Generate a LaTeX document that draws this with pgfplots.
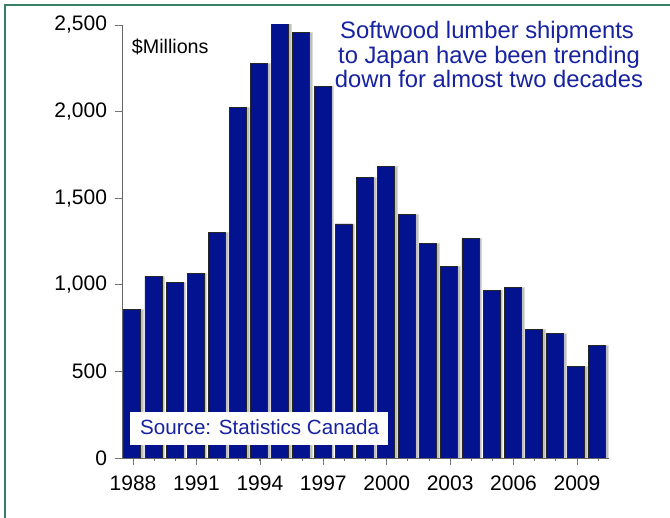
\documentclass[border=0pt]{standalone}
\usepackage{fontspec}
\setmainfont{Liberation Sans}
\usepackage{pgfplots}
\pgfplotsset{compat=1.18}

\definecolor{barblue}{RGB}{3,19,143}
\definecolor{textblue}{RGB}{22,34,160}
\definecolor{framegreen}{RGB}{58,128,100}

\begin{document}
\begin{tikzpicture}
  % page area: 670 x 518 with the axis origin at (0,0)
  \useasboundingbox (-122.5pt,-60pt) rectangle (547.5pt,458pt);
  \fill[white] (-122.5pt,-60pt) rectangle (547.5pt,458pt);

  \begin{axis}[
    scale only axis,
    width=486.2pt, height=433pt,
    xmin=1987.5, xmax=2010.5,
    ymin=0, ymax=2500,
    axis x line*=bottom,
    axis y line*=left,
    axis line style={black!60, line width=0.9pt, -},
    tick align=outside,
    tick style={black!55, line width=0.8pt},
    major tick length=7pt,
    minor tick length=3.5pt,
    xtick={1988,1991,...,2009},
    minor xtick={1988,...,2010},
    ytick={0,500,...,2500},
    /pgf/number format/assume math mode=true,
    x tick label style={/pgf/number format/set thousands separator={},
      font=\fontsize{21}{24}\selectfont, yshift=-7pt},
    y tick label style={/pgf/number format/1000 sep={,},
      font=\fontsize{21}{24}\selectfont, xshift=-5pt},
    ybar,
  ]
    % raised edge behind each bar
    \addplot[fill=gray!50, draw=gray!30, line width=0.5pt, bar width=18pt, bar shift=1.2pt]
      table[x=year, y=value] {
        year value
        1988 860
        1989 1050
        1990 1012
        1991 1064
        1992 1303
        1993 2025
        1994 2279
        1995 2525
        1996 2458
        1997 2144
        1998 1351
        1999 1621
        2000 1682
        2001 1407
        2002 1241
        2003 1107
        2004 1266
        2005 968
        2006 987
        2007 741
        2008 718
        2009 531
        2010 649
      };
    % shipments, $ millions
    \addplot[fill=barblue, draw=black!85, line width=0.8pt, bar width=17pt, bar shift=-0.8pt]
      table[x=year, y=value] {
        year value
        1988 860
        1989 1050
        1990 1012
        1991 1064
        1992 1303
        1993 2025
        1994 2279
        1995 2525
        1996 2458
        1997 2144
        1998 1351
        1999 1621
        2000 1682
        2001 1407
        2002 1241
        2003 1107
        2004 1266
        2005 968
        2006 987
        2007 741
        2008 718
        2009 531
        2010 649
      };
  \end{axis}

  % unit label
  \node[anchor=base west, inner sep=0pt, font=\fontsize{19.7}{22}\selectfont]
    at (9.2pt,404.7pt) {\$Millions};

  % headline
  \begin{scope}[every node/.style={anchor=base, inner sep=0pt, text=textblue,
      font=\fontsize{23.8}{25}\selectfont}]
    \node at (364.5pt,419.7pt) {Softwood lumber shipments};
    \node at (366.5pt,394.7pt) {to Japan have been trending};
    \node at (366.5pt,370.7pt) {down for almost two decades};
  \end{scope}

  % source box
  \fill[white] (7.5pt,13pt) rectangle (265.8pt,46.3pt);
  \node[anchor=base, inner sep=0pt, text=textblue, font=\fontsize{20.6}{23}\selectfont]
    at (137.2pt,23pt) {Source: Statistics Canada};

  % frame
  \draw[framegreen, line width=2.6pt] (-117.5pt,-70pt) -- (-117.5pt,453pt) -- (560pt,453pt);
\end{tikzpicture}
\end{document}
